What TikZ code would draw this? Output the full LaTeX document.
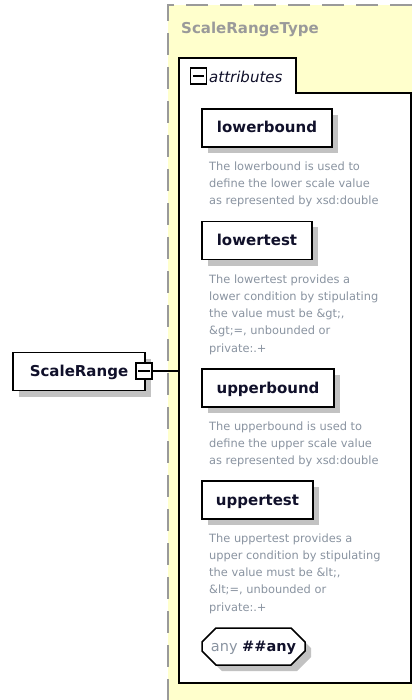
\documentclass[tikz,border=0pt]{standalone}
\usepackage{fontspec}
\setmainfont{DejaVu Sans}
\usetikzlibrary{shadows,shapes.misc}
\definecolor{typefill}{HTML}{FFFFCC}
\definecolor{typegray}{HTML}{9A9A9A}
\definecolor{descgray}{HTML}{8A94A1}
\definecolor{shadowgray}{HTML}{C2C2C2}
\definecolor{labelink}{HTML}{10102A}

\begin{document}
\begin{tikzpicture}[x=1pt,y=-1pt,
    elem/.style={draw, line width=1.5pt, fill=white, inner sep=0pt, minimum height=38pt,
      general shadow={fill=shadowgray, shadow xshift=6pt, shadow yshift=-6pt},
      text=labelink, font=\fontsize{15}{18}\selectfont\bfseries, text height=12pt, text depth=2pt},
    desc/.style={anchor=north west, inner sep=0pt, align=left, text=descgray,
      font=\fontsize{11.4}{17.2}\selectfont},
    minusbox/.style={draw, line width=1.1pt, fill=white, minimum size=16pt, inner sep=0pt}]
  \useasboundingbox (0,0) rectangle (412,700);
  \fill[typefill] (168,5) rectangle (412,700);
  \draw[typegray, line width=1.5pt, dash pattern=on 22pt off 12pt] (412,5) -- (168,5) -- (168,700);
  \node[anchor=base west, inner sep=0pt, text=typegray, font=\fontsize{15}{18}\selectfont\bfseries] (typename) at (181,34) {ScaleRangeType};

  \draw[line width=1.3pt, fill=white] (179,683) -- (179,58) -- (296,58) -- (296,93) -- (411,93) -- (411,683) -- cycle;
  \node[minusbox] (attrminus) at (198.5,76) {};
  \draw[line width=1.1pt] ([xshift=3pt]attrminus.west) -- ([xshift=-3pt]attrminus.east);
  \node[anchor=base west, inner sep=0pt, text=labelink, font=\fontsize{15}{18}\selectfont\itshape] (attrs) at (209,83) {attributes};
  \coordinate (attrleft) at (179,371);

  \node[elem, minimum width=130pt] (lowerbound) at (267,128) {lowerbound};
  \node[desc] (lowerbounddesc) at (209,161.5) {The lowerbound is used to\\define the lower scale value\\as represented by xsd:double};
  \node[elem, minimum width=110pt] (lowertest) at (257,240.5) {lowertest};
  \node[desc] (lowertestdesc) at (209,274.5) {The lowertest provides a\\lower condition by stipulating\\the value must be \&gt;,\\\&gt;=, unbounded or\\private:.+};
  \node[elem, minimum width=132pt] (upperbound) at (268,388) {upperbound};
  \node[desc] (upperbounddesc) at (209,421.5) {The upperbound is used to\\define the upper scale value\\as represented by xsd:double};
  \node[elem, minimum width=111pt] (uppertest) at (257.5,500) {uppertest};
  \node[desc] (uppertestdesc) at (209,533.5) {The uppertest provides a\\upper condition by stipulating\\the value must be \&lt;,\\\&lt;=, unbounded or\\private:.+};
  \node[elem, chamfered rectangle, chamfered rectangle xsep=7pt, chamfered rectangle ysep=7pt,
    minimum width=103pt, minimum height=37pt, font=\fontsize{14.5}{18}\selectfont] (anyelem) at (253.5,646.5)
    {{\color{descgray}any}\ \textbf{\#\#any}};

  \node[elem, minimum width=132pt] (scalerange) at (79,371.5) {ScaleRange};
  \node[minusbox] (scalerangeminus) at (144,371) {};
  \draw[line width=1.1pt] ([xshift=3pt]scalerangeminus.west) -- ([xshift=-3pt]scalerangeminus.east);
  \draw[line width=1.1pt] (scalerangeminus) -- (attrleft);
\end{tikzpicture}
\end{document}
